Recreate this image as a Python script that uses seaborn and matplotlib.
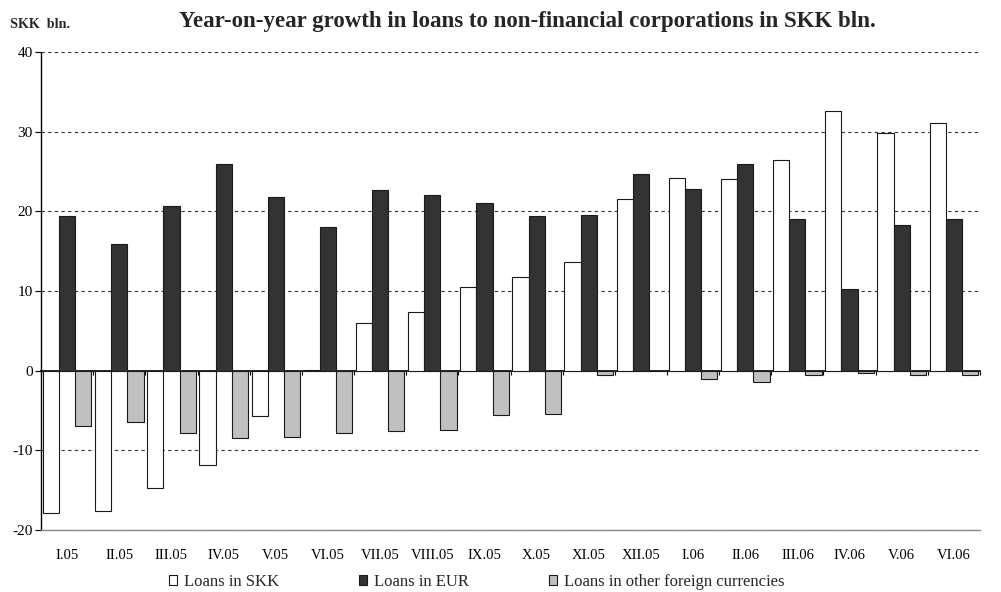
import matplotlib
matplotlib.use("Agg")
import matplotlib.pyplot as plt
import numpy as np
import pandas as pd
import seaborn as sns

# ---------------------------------------------------------------------------
# Data (SKK bln., year-on-year change)
# ---------------------------------------------------------------------------
months = ["I.05", "II.05", "III.05", "IV.05", "V.05", "VI.05", "VII.05",
          "VIII.05", "IX.05", "X.05", "XI.05", "XII.05", "I.06", "II.06",
          "III.06", "IV.06", "V.06", "VI.06"]
loans_skk = [-17.9, -17.6, -14.8, -11.8, -5.7, 0.1, 6.0, 7.3, 10.5, 11.7,
             13.7, 21.6, 24.2, 24.1, 26.5, 32.6, 29.8, 31.1]
loans_eur = [19.4, 15.9, 20.7, 26.0, 21.8, 18.0, 22.7, 22.1, 21.0, 19.4,
             19.5, 24.7, 22.8, 25.9, 19.1, 10.3, 18.3, 19.1]
loans_other = [-7.0, -6.5, -7.8, -8.5, -8.3, -7.9, -7.6, -7.5, -5.6, -5.4,
               -0.6, -0.05, -1.1, -1.4, -0.6, -0.3, -0.6, -0.5]
series_names = ["Loans in SKK", "Loans in EUR",
                "Loans in other foreign currencies"]
series_colors = ["#ffffff", "#333333", "#c0c0c0"]

df = pd.DataFrame({
    "month": months * 3,
    "series": np.repeat(series_names, len(months)),
    "value": loans_skk + loans_eur + loans_other,
})

# ---------------------------------------------------------------------------
# Plot
# ---------------------------------------------------------------------------
sns.set_theme(style="white")
plt.rcParams["font.family"] = ["Liberation Serif", "DejaVu Serif"]
plt.rcParams["axes.unicode_minus"] = False

fig = plt.figure(figsize=(10.01, 5.92), dpi=100)
ax = fig.add_axes([0.041, 0.105, 0.938, 0.807])

sns.barplot(
    data=df, x="month", y="value", hue="series",
    order=months, hue_order=series_names,
    palette=dict(zip(series_names, series_colors)),
    width=0.93, edgecolor="#1a1a1a", linewidth=0.8,
    errorbar=None, ax=ax,
)

ax.set_ylim(-20, 40)
ax.set_xlim(-0.5, len(months) - 0.5)
ax.set_yticks(range(-20, 41, 10))
ax.set_xlabel("")
ax.set_ylabel("")

ax.yaxis.grid(True, linestyle=(0, (3, 3)), color="#333333", linewidth=0.8)
ax.set_axisbelow(True)
for side in ["top", "right"]:
    ax.spines[side].set_visible(False)
ax.spines["left"].set_color("black")
ax.spines["left"].set_linewidth(1.0)
ax.spines["bottom"].set_color("#888888")
ax.spines["bottom"].set_linewidth(1.0)

ax.tick_params(axis="x", length=0, pad=14, labelsize=10.5, colors="black")
ax.tick_params(axis="y", length=4, width=0.8, direction="out", pad=2,
               labelsize=11, colors="black", left=True)

# category axis crossing at zero, with small tick marks between groups
zero_axis = ax.secondary_xaxis((0 - (-20)) / 60)
zero_axis.set_xticks(np.arange(-0.5, len(months) - 0.4, 1.0))
zero_axis.set_xticklabels([])
zero_axis.tick_params(direction="out", length=3, width=0.8, color="black")
zero_axis.spines["bottom"].set_color("black")
zero_axis.spines["bottom"].set_linewidth(1.2)

handles, labels = ax.get_legend_handles_labels()
ax.legend(
    handles, labels, ncol=3, frameon=False, fontsize=12,
    loc="center", bbox_to_anchor=(0.476, 0.017), bbox_transform=fig.transFigure,
    handlelength=0.5, handleheight=0.5, handletextpad=0.4, columnspacing=4.8,
    borderpad=0.2,
)

fig.text(0.527, 0.963,
         "Year-on-year growth in loans to non-financial corporations in SKK bln.",
         ha="center", va="center", fontsize=16.5, fontweight="bold")
fig.text(0.010, 0.958, "SKK  bln.", ha="left", va="center",
         fontsize=10.2, fontweight="bold")

fig.savefig("out.png", dpi=100)
